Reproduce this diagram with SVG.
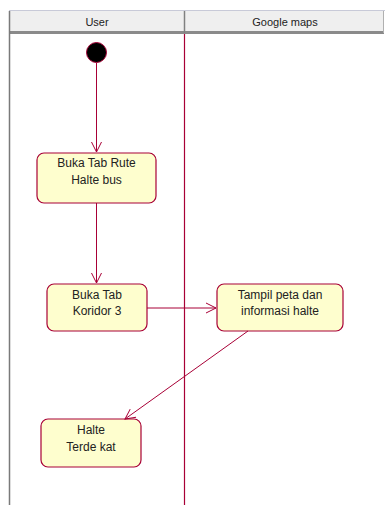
<svg xmlns="http://www.w3.org/2000/svg" width="385" height="505" viewBox="0 0 385 505">
  <style>
    .lane-title { font-family: "Liberation Sans", Arial, sans-serif; font-size: 11px; fill: #222; text-anchor: middle; }
    .act rect { fill: #fefece; stroke: #a80036; stroke-width: 1.2; }
    .act text { font-family: "Liberation Sans", Arial, sans-serif; font-size: 12px; fill: #222; text-anchor: middle; }
    .flow { stroke: #a80036; stroke-width: 1; fill: none; }
  </style>
  <defs>
    <marker id="open" viewBox="0 0 12 12" refX="11" refY="6" markerWidth="12" markerHeight="12" markerUnits="userSpaceOnUse" orient="auto">
      <path d="M1,1 L11,6 L1,11" fill="none" stroke="#a80036" stroke-width="1"/>
    </marker>
  </defs>
  <rect width="385" height="505" fill="#ffffff"/>

  <!-- swimlane headers -->
  <g id="lanes">
    <line x1="9" y1="10.5" x2="385" y2="10.5" stroke="#c8cad8" stroke-width="1"/>
    <rect x="9" y="11" width="375" height="20" fill="#efefef"/>
    <rect x="9" y="31" width="375" height="3" fill="#8a8a8a"/>
    <line x1="184.5" y1="11" x2="184.5" y2="33" stroke="#808080" stroke-width="1.5"/>
    <line x1="383.5" y1="11" x2="383.5" y2="33" stroke="#b0b0b0" stroke-width="1"/>
    <line x1="9.5" y1="11" x2="9.5" y2="505" stroke="#7a7a7a" stroke-width="1.5"/>
    <line x1="184.5" y1="34" x2="184.5" y2="505" stroke="#a80036" stroke-width="1.2"/>
    <text class="lane-title" x="97" y="26">User</text>
    <text class="lane-title" x="285" y="26">Google maps</text>
  </g>

  <!-- initial node -->
  <g id="start">
    <circle cx="96.5" cy="52.5" r="10" fill="#000" stroke="#a80036" stroke-width="1"/>
  </g>

  <g id="buka-tab-rute" class="act">
    <rect x="37" y="153" width="119" height="50" rx="7"/>
    <text x="96.5" y="167">Buka Tab Rute</text>
    <text x="96.5" y="184">Halte bus</text>
  </g>

  <g id="buka-tab-koridor" class="act">
    <rect x="47" y="284" width="100" height="47" rx="7"/>
    <text x="97" y="299">Buka Tab</text>
    <text x="97" y="315">Koridor 3</text>
  </g>

  <g id="tampil-peta" class="act">
    <rect x="217" y="284" width="126" height="47" rx="7"/>
    <text x="280" y="299">Tampil peta dan</text>
    <text x="280" y="315">informasi halte</text>
  </g>

  <g id="halte-terdekat" class="act">
    <rect x="41" y="419" width="100" height="48" rx="7"/>
    <text x="91" y="434">Halte</text>
    <text x="91" y="451">Terde kat</text>
  </g>

  <!-- control flows -->
  <g id="connectors">
    <line class="flow" x1="96.5" y1="63" x2="96.5" y2="152" marker-end="url(#open)"/>
    <line class="flow" x1="96.5" y1="203" x2="96.5" y2="283" marker-end="url(#open)"/>
    <line class="flow" x1="147" y1="308" x2="216" y2="308" marker-end="url(#open)"/>
    <line class="flow" x1="248" y1="331" x2="125" y2="419" marker-end="url(#open)"/>
  </g>
</svg>
